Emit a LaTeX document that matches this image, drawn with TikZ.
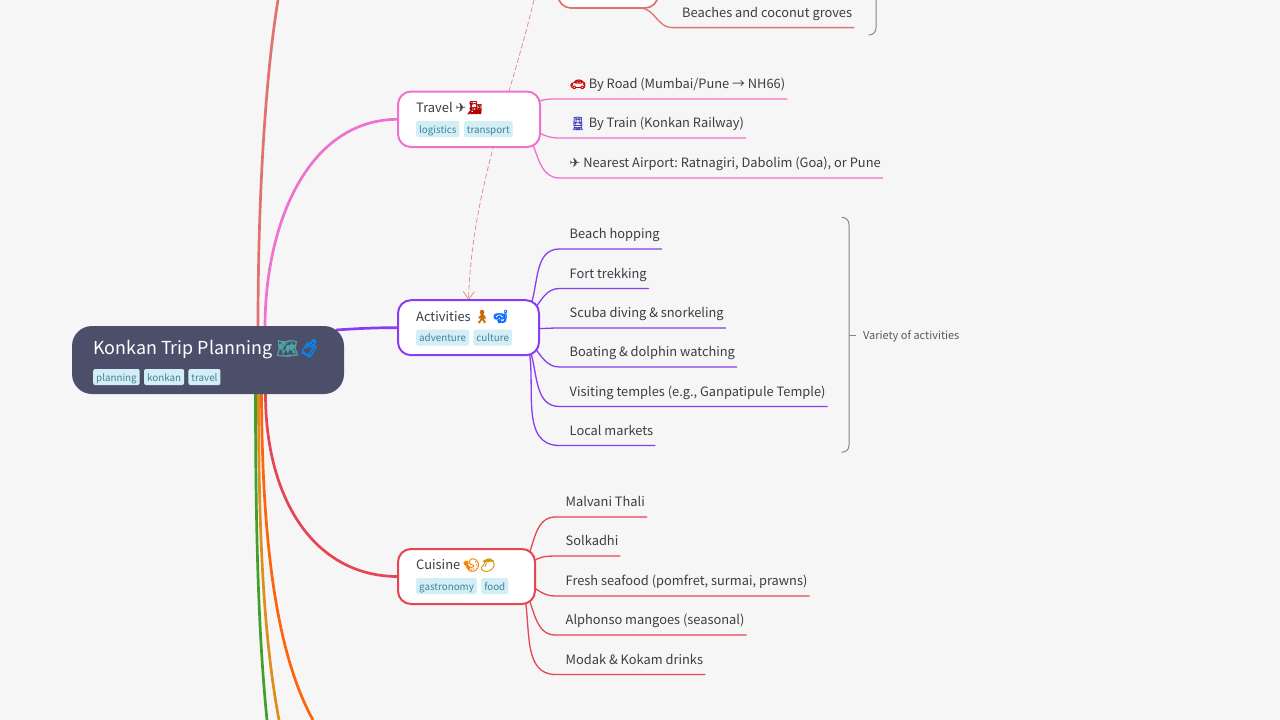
\documentclass[tikz,border=0pt]{standalone}
\usepackage{fontspec}
\setmainfont{Noto Sans CJK SC}
\newfontfamily\emojifont[FakeBold=1.5]{Noto Emoji}
\newfontfamily\symbolfont{DejaVu Sans}
\usepackage{xcolor}
\usetikzlibrary{calc, arrows.meta}
\pgfdeclarelayer{paperlayer}
\pgfdeclarelayer{links}
\pgfsetlayers{paperlayer,links,main}
\definecolor{paper}{HTML}{F6F6F6}
\definecolor{rootfill}{HTML}{4C4F69}
\definecolor{inktext}{HTML}{3C3C43}
\definecolor{tagfill}{HTML}{D3EEF5}
\definecolor{tagtext}{HTML}{3F8299}
\definecolor{coral}{HTML}{E0736E}
\definecolor{pinkish}{HTML}{EE72D0}
\definecolor{violet}{HTML}{8C3CF0}
\definecolor{crimson}{HTML}{E64553}
\definecolor{tangerine}{HTML}{FE640B}
\definecolor{ochre}{HTML}{DF8E1D}
\definecolor{leafgreen}{HTML}{40A02B}
\definecolor{greyline}{HTML}{85858A}
\tikzset{
  leaf/.style={anchor=south west, inner xsep=2pt, inner ysep=6pt, text height=10pt, text depth=4pt, text=inktext, font=\fontsize{12.85}{16}\selectfont},
  topic/.style={anchor=west, draw=#1, fill=white, line width=2pt, rounded corners=13pt, inner sep=0pt, outer sep=0pt},
  topiclabel/.style={anchor=base west, inner sep=0pt, text=inktext, font=\fontsize{12.9}{16}\selectfont},
  tagbox/.style={anchor=west, fill=tagfill, text=tagtext, rounded corners=2pt, inner xsep=3pt, inner ysep=2.5pt, text height=9.5pt, text depth=1.5pt, font=\fontsize{9.8}{12}\selectfont},
  branch/.style={draw=#1, line width=2.7pt},
  twig/.style={draw=#1, line width=1.3pt},
  bracket/.style={draw=greyline, line width=1pt}
}
\newcommand{\emo}[2]{\textcolor{#1}{{\emojifont #2}}}

\begin{document}
\frenchspacing
\begin{tikzpicture}[x=1pt, y=-1pt]
\useasboundingbox (0,0) rectangle (1280,720);
\begin{pgfonlayer}{paperlayer}
\fill[paper] (0,0) rectangle (1280,720);
\end{pgfonlayer}

% root and main topics
\node[anchor=west, fill=rootfill, rounded corners=20pt, minimum width=272pt, minimum height=68pt, outer sep=0pt] (root) at (72,360) {};
\node[anchor=base west, text=white, font=\fontsize{17.9}{22}\selectfont, inner sep=0pt] (roottitle) at (93,354.5) {Konkan Trip Planning \emo{teal!70!white}{🗺} \hspace{-5pt}\emo{blue!45!cyan}{🧳}};
\node[tagbox] (tagplanning) at (93,377) {planning};
\node[tagbox] (tagkonkan) at ($(tagplanning.east)+(4,0)$) {konkan};
\node[tagbox] (tagtravel) at ($(tagkonkan.east)+(4,0)$) {travel};

\node[topic=pinkish, minimum width=142pt, minimum height=55.5pt] (travel) at (398,119.3) {};
\node[topic=violet, minimum width=141pt, minimum height=55pt] (activities) at (398,327.7) {};
\node[topic=crimson, minimum width=137pt, minimum height=55pt] (cuisine) at (398,576.5) {};
\node[topic=coral, line width=1.7pt, minimum width=100pt, minimum height=60pt] (beachbox) at (558,-22) {};

\node[topiclabel] (travellabel) at (416,112) {Travel {\symbolfont ✈}\emo{red!70!black}{🚂}};
\node[tagbox] (taglogistics) at (416,129) {logistics};
\node[tagbox] (tagtransport) at ($(taglogistics.east)+(4,0)$) {transport};

\node[topiclabel] (activitieslabel) at (416,321) {Activities \emo{orange!80!black}{🚶}\hspace{2pt}\emo{blue!60!cyan}{🤿}};
\node[tagbox] (tagadventure) at (416,337.5) {adventure};
\node[tagbox] (tagculture) at ($(tagadventure.east)+(4,0)$) {culture};

\node[topiclabel] (cuisinelabel) at (416,569.5) {Cuisine \emo{orange}{🍤}\emo{orange!80!green}{🥭}};
\node[tagbox] (taggastronomy) at (416,586) {gastronomy};
\node[tagbox] (tagfood) at ($(taggastronomy.east)+(4,0)$) {food};

% leaves
\node[leaf] (road) at (567.5,99) {\emo{red!80!black}{🚗} By Road (Mumbai/Pune → NH66)};
\node[leaf] (train) at (567.5,138) {\emo{blue!50!gray}{🚆} By Train (Konkan Railway)};
\node[leaf] (airport) at (567.5,178) {{\symbolfont ✈} Nearest Airport: Ratnagiri, Dabolim (Goa), or Pune};

\node[leaf] (beach) at (567.5,249) {Beach hopping};
\node[leaf] (fort) at (567.5,288.5) {Fort trekking};
\node[leaf] (scuba) at (567.5,328) {Scuba diving \& snorkeling};
\node[leaf] (boating) at (567.5,367) {Boating \& dolphin watching};
\node[leaf] (temples) at (567.5,406.5) {Visiting temples (e.g., Ganpatipule Temple)};
\node[leaf] (markets) at (567.5,445.5) {Local markets};

\node[leaf] (thali) at (563.5,517) {Malvani Thali};
\node[leaf] (solkadhi) at (563.5,556) {Solkadhi};
\node[leaf] (seafood) at (563.5,596) {Fresh seafood (pomfret, surmai, prawns)};
\node[leaf] (mangoes) at (563.5,635) {Alphonso mangoes (seasonal)};
\node[leaf] (modak) at (563.5,674.5) {Modak \& Kokam drinks};

\node[leaf] (groves) at (680,27.6) {Beaches and coconut groves};

\node[anchor=west, inner sep=0pt, text=inktext!85!white, font=\fontsize{10.95}{13}\selectfont] (variety) at (863,336) {Variety of activities};

% free ends
\coordinate (coralend) at (278,0);
\coordinate (tangerineend) at (313,720);
\coordinate (ochreend) at (279,720);
\coordinate (greenend) at (267,720);
\coordinate (linkstart) at (534,0);

\begin{pgfonlayer}{links}
\draw[branch=coral] ($(root.north)+(50,2)$) .. controls (258,200) and (265,80) .. (coralend);
\draw[branch=pinkish] ($(root.north)+(57,2)$) .. controls (265,220) and (310,119.3) .. (travel.west);
\draw[branch=violet] ($(root.north east)+(-8,4)$) .. controls (365,328) and (380,327.7) .. (activities.west);
\draw[branch=crimson] ($(root.south)+(57.5,-2)$) .. controls (265,500) and (315,576.5) .. (cuisine.west);
\draw[branch=tangerine] ($(root.south)+(53.5,-2)$) .. controls (262,560) and (280,660) .. (tangerineend);
\draw[branch=ochre] ($(root.south)+(50.5,-2)$) .. controls (258.5,560) and (266,650) .. (ochreend);
\draw[branch=leafgreen] ($(root.south)+(47.5,-2)$) .. controls (255.5,560) and (260,650) .. (greenend);

\foreach \leafname/\dx/\dy/\leave in {road/-6/-15/35, train/-6/10/-35, airport/-8/23/-68}
  \draw[twig=pinkish] ($(travel.east)+(\dx,\dy)$) to[out=\leave,in=180] ($(\leafname.south west)+(-8,0)$) -- (\leafname.south east);
\foreach \leafname/\dx/\dy/\leave in {beach/-8/-23/72, fort/-6/-17/50, scuba/-6/1/0, boating/-6/18/-50, temples/-9/22/-72, markets/-10/22/-80}
  \draw[twig=violet] ($(activities.east)+(\dx,\dy)$) to[out=\leave,in=180] ($(\leafname.south west)+(-8,0)$) -- (\leafname.south east);
\foreach \leafname/\dx/\dy/\leave in {thali/-7/-20/68, solkadhi/-4/-14/35, seafood/-4/9/-35, mangoes/-7/20/-68, modak/-10/22/-80}
  \draw[twig=crimson] ($(cuisine.east)+(\dx,\dy)$) to[out=\leave,in=180] ($(\leafname.south west)+(-8,0)$) -- (\leafname.south east);
\draw[twig=coral] ($(beachbox.south east)+(-18,0)$) to[out=0,in=180] ($(groves.south west)+(-8,0)$) -- (groves.south east);

% dashed link between topics
\draw[draw=coral!80!white, line width=0.8pt, dash pattern=on 5pt off 2.5pt, -{Straight Barb[length=8pt,width=11pt]}] (linkstart) .. controls (510,100) and (472,190) .. (activities.north);
\end{pgfonlayer}

% brackets
\draw[bracket] (841.7,217.3) .. controls (846,217.5) and (849,220) .. (849,225) -- (849,445) .. controls (849,450) and (846,452) .. (841.7,452.3);
\draw[bracket] (849,335.3) -- (856,335.3);
\draw[bracket] (876,0) -- (876,28) .. controls (876,32) and (873,35) .. (868.7,35);

\end{tikzpicture}
\end{document}
